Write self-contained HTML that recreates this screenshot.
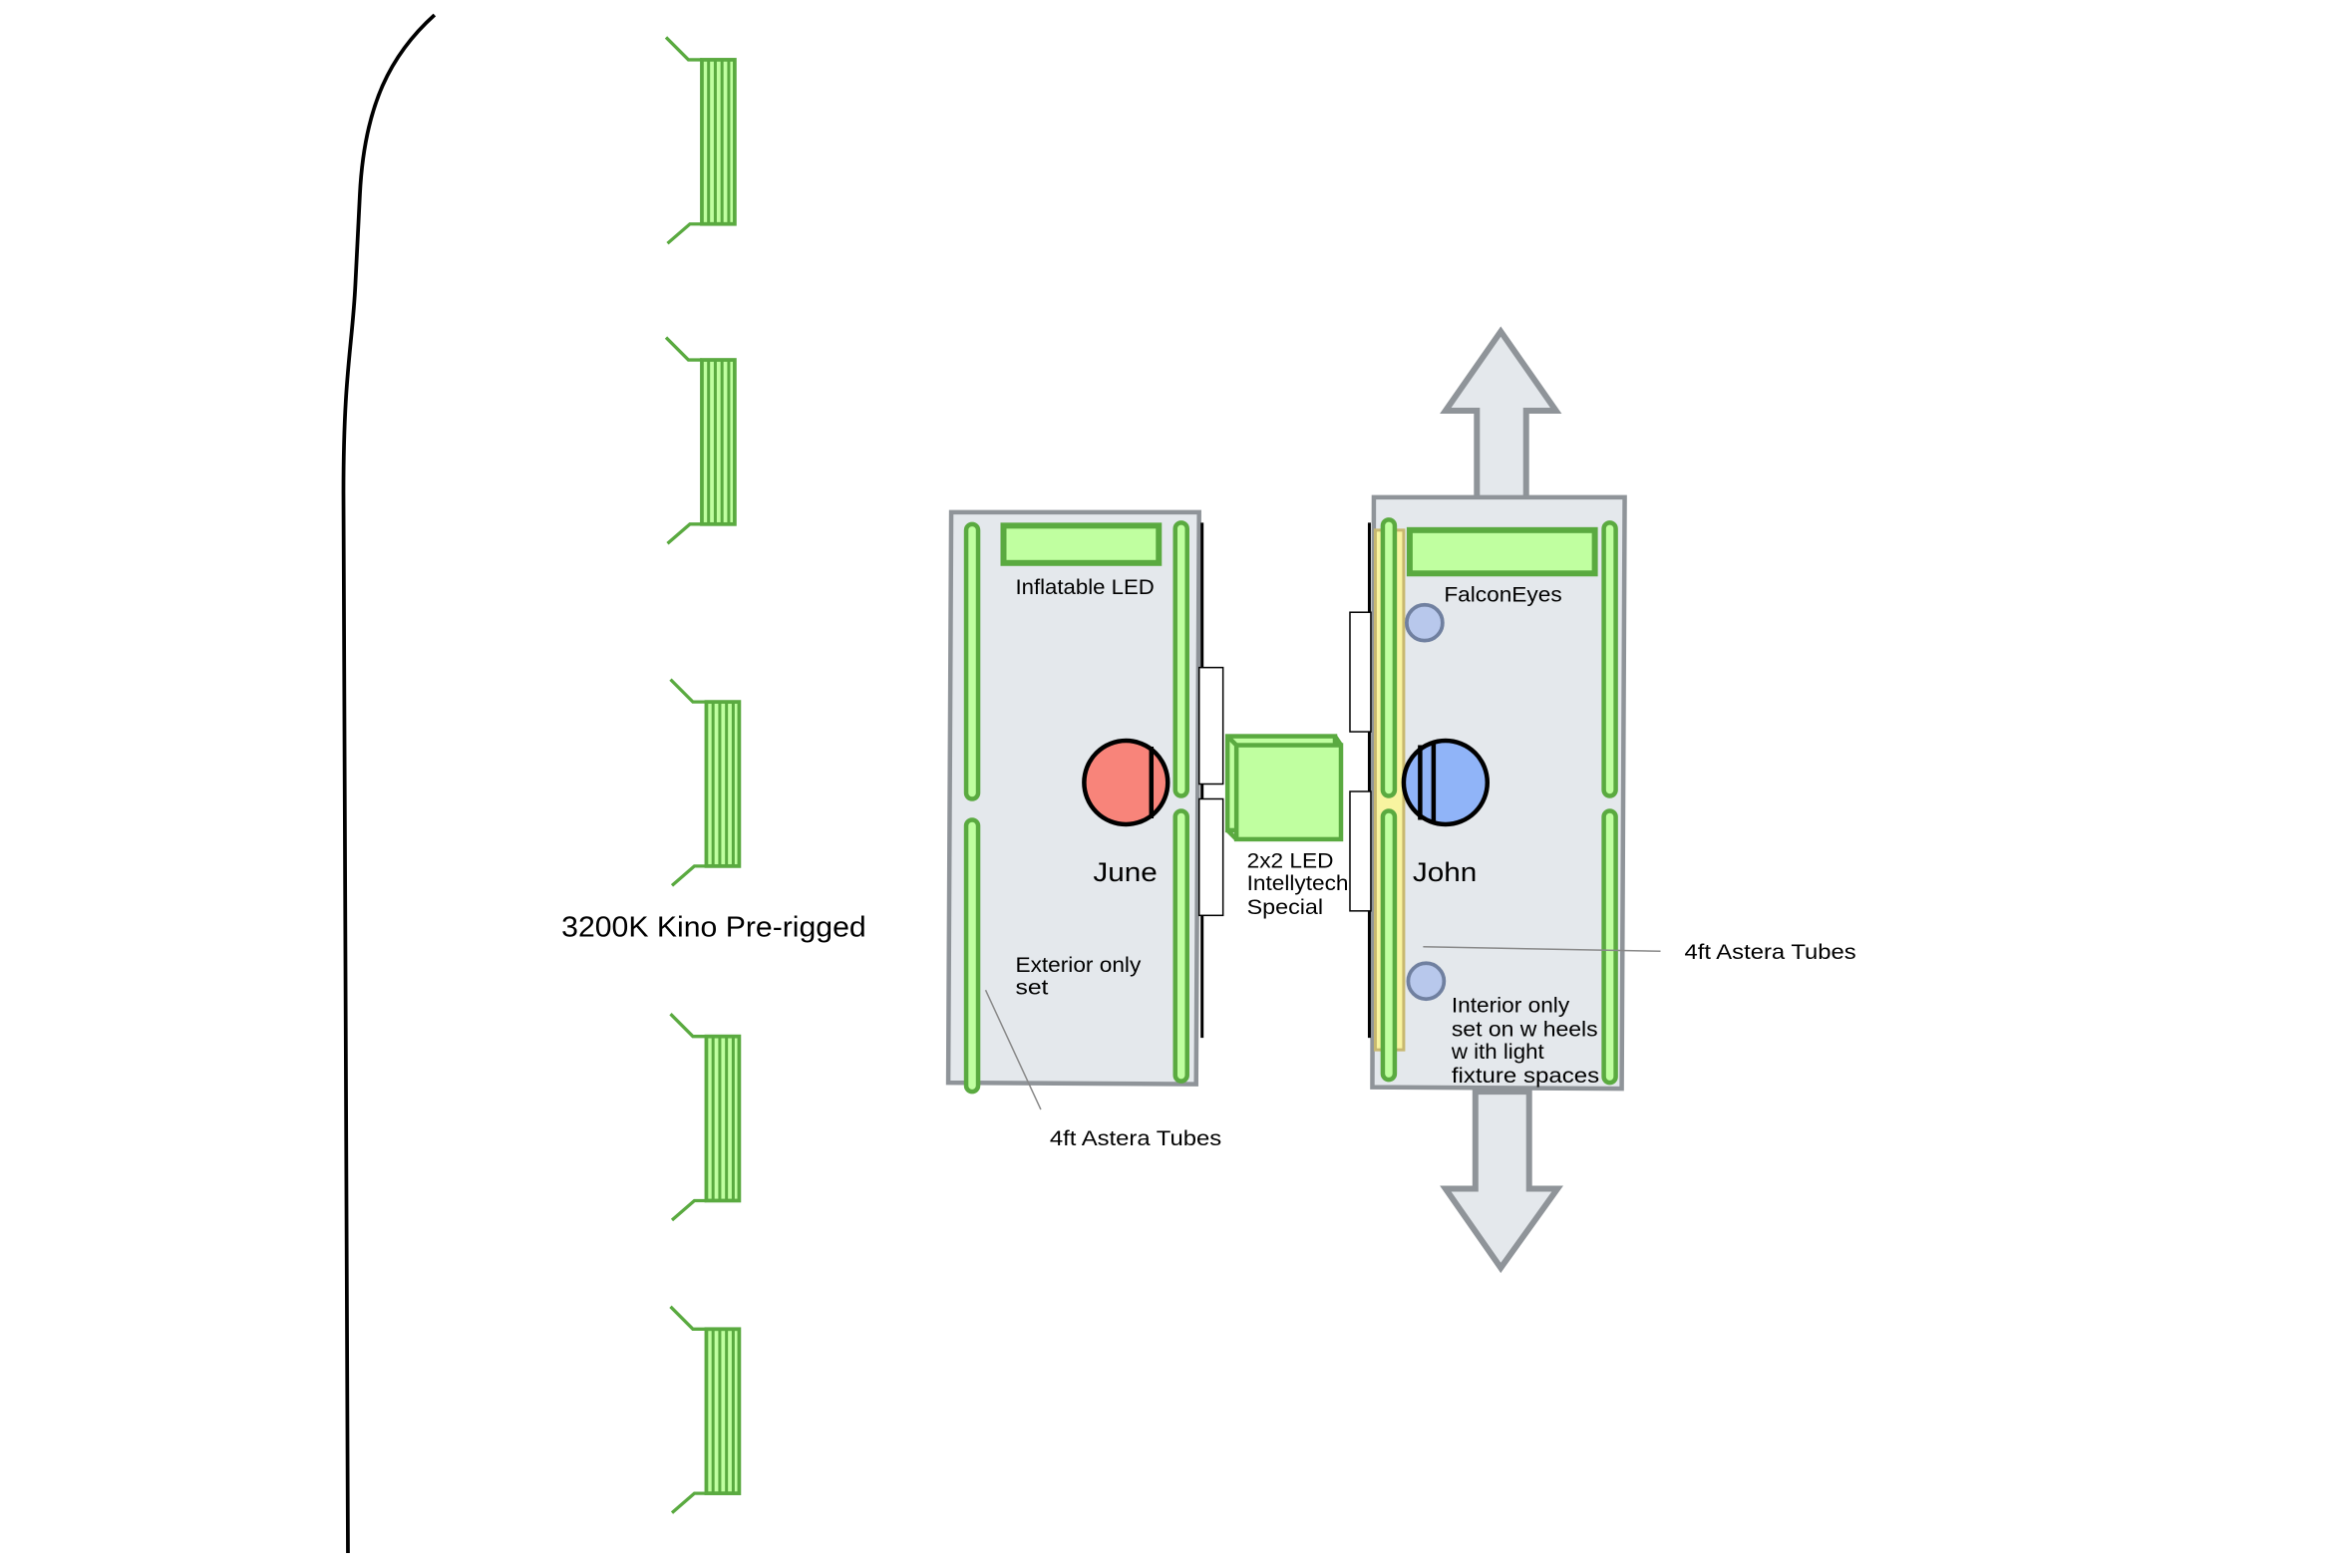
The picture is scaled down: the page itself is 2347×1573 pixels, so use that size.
<!DOCTYPE html>
<html><head><meta charset="utf-8"><style>
html,body{margin:0;padding:0;background:#fff;}
svg{display:block;}
text{font-family:"Liberation Sans",sans-serif;fill:#000;}
</style></head><body>
<svg width="2347" height="1573" viewBox="0 0 1567 1050" preserveAspectRatio="none" xmlns="http://www.w3.org/2000/svg">
<defs>
<g id="kino">
<polyline points="446,25 461,40 470,40" fill="none" stroke="#5aaa40" stroke-width="2.2"/>
<polyline points="447,163 462,150 470,150" fill="none" stroke="#5aaa40" stroke-width="2.2"/>
<rect x="470" y="40" width="22" height="110" fill="#c0ffa0" stroke="#5aaa40" stroke-width="2.5"/>
<line x1="474.5" y1="40" x2="474.5" y2="150" stroke="#5aaa40" stroke-width="2"/>
<line x1="479" y1="40" x2="479" y2="150" stroke="#5aaa40" stroke-width="2"/>
<line x1="483.5" y1="40" x2="483.5" y2="150" stroke="#5aaa40" stroke-width="2"/>
<line x1="488" y1="40" x2="488" y2="150" stroke="#5aaa40" stroke-width="2"/>
</g>
</defs>
<path d="M291,10 C262,36 244,70 241,130 L238,190 C236,232 230,250 230,330 L233,1040" fill="none" stroke="#000" stroke-width="2.5"/>
<use href="#kino"/>
<use href="#kino" transform="translate(0,201)"/>
<use href="#kino" transform="translate(3,430)"/>
<use href="#kino" transform="translate(3,654)"/>
<use href="#kino" transform="translate(3,850)"/>
<text x="376" y="627" font-size="19" textLength="204" lengthAdjust="spacingAndGlyphs">3200K Kino Pre-rigged</text>

<polygon points="1005,222 1042,275 1022,275 1022,338 989,338 989,275 968,275" fill="#e4e8ec" stroke="#8f9499" stroke-width="4"/>
<polygon points="988,731 1024,731 1024,796 1043,796 1005,849 968,796 988,796" fill="#e4e8ec" stroke="#8f9499" stroke-width="4"/>

<polygon points="637,343 803,343 801,726 635,725" fill="#e4e8ec" stroke="#8f9499" stroke-width="3"/>
<line x1="805" y1="350" x2="805" y2="695" stroke="#000" stroke-width="2"/>
<rect x="803" y="447" width="16" height="78" fill="#fff" stroke="#000" stroke-width="1"/>
<rect x="803" y="535" width="16" height="78" fill="#fff" stroke="#000" stroke-width="1"/>
<g fill="#c0ffa0" stroke="#5aaa40" stroke-width="3">
<rect x="647" y="351" width="8" height="184" rx="4"/>
<rect x="647" y="549" width="8" height="182" rx="4"/>
<rect x="787" y="350" width="8" height="183" rx="4"/>
<rect x="787" y="543" width="8" height="181" rx="4"/>
<rect x="672" y="352" width="104" height="25" stroke-width="4"/>
</g>
<text x="680" y="398" font-size="14.5" textLength="93" lengthAdjust="spacingAndGlyphs">Inflatable LED</text>
<circle cx="754" cy="524" r="28" fill="#f8847a" stroke="#000" stroke-width="3"/>
<line x1="771" y1="500" x2="771" y2="548" stroke="#000" stroke-width="3"/>
<text x="732" y="590" font-size="18" textLength="43" lengthAdjust="spacingAndGlyphs">June</text>
<text x="680" y="651" font-size="14.5" textLength="84" lengthAdjust="spacingAndGlyphs">Exterior only</text>
<text x="680" y="666" font-size="14.5" textLength="22" lengthAdjust="spacingAndGlyphs">set</text>
<line x1="660" y1="663" x2="697" y2="743" stroke="#888" stroke-width="1"/>
<text x="703" y="767" font-size="14.5" textLength="115" lengthAdjust="spacingAndGlyphs">4ft Astera Tubes</text>

<g fill="#c0ffa0" stroke="#5aaa40" stroke-width="3">
<rect x="822" y="493" width="72" height="63"/>
<rect x="828" y="499" width="70" height="63"/>
<line x1="822" y1="493" x2="828" y2="499"/>
<line x1="894" y1="493" x2="898" y2="499"/>
<line x1="822" y1="556" x2="828" y2="562"/>
</g>
<text x="835" y="581" font-size="14.5" textLength="58" lengthAdjust="spacingAndGlyphs">2x2 LED</text>
<text x="835" y="596" font-size="14.5" textLength="68" lengthAdjust="spacingAndGlyphs">Intellytech</text>
<text x="835" y="612" font-size="14.5" textLength="51" lengthAdjust="spacingAndGlyphs">Special</text>

<polygon points="920,333 1088,333 1086,729 919,728" fill="#e4e8ec" stroke="#8f9499" stroke-width="3"/>
<line x1="917" y1="350" x2="917" y2="695" stroke="#000" stroke-width="2"/>
<rect x="904" y="410" width="14" height="80" fill="#fff" stroke="#000" stroke-width="1"/>
<rect x="904" y="530" width="14" height="80" fill="#fff" stroke="#000" stroke-width="1"/>
<rect x="921" y="355" width="19" height="348" fill="#f8f4a0" stroke="#c8b870" stroke-width="2"/>
<g fill="#c0ffa0" stroke="#5aaa40" stroke-width="3">
<rect x="926" y="348" width="8" height="185" rx="4"/>
<rect x="926" y="543" width="8" height="180" rx="4"/>
<rect x="1074" y="350" width="8" height="183" rx="4"/>
<rect x="1074" y="543" width="8" height="182" rx="4"/>
<rect x="944" y="355" width="124" height="29" stroke-width="4"/>
</g>
<text x="967" y="403" font-size="14.5" textLength="79" lengthAdjust="spacingAndGlyphs">FalconEyes</text>
<circle cx="954" cy="417" r="12" fill="#b8c8ec" stroke="#7080a0" stroke-width="2.5"/>
<circle cx="955" cy="657" r="12" fill="#b8c8ec" stroke="#7080a0" stroke-width="2.5"/>
<circle cx="968" cy="524" r="28" fill="#90b4f8" stroke="#000" stroke-width="3"/>
<line x1="951" y1="499" x2="951" y2="549" stroke="#000" stroke-width="3"/>
<line x1="960" y1="497" x2="960" y2="551" stroke="#000" stroke-width="3"/>
<text x="946" y="590" font-size="18" textLength="43" lengthAdjust="spacingAndGlyphs">John</text>
<line x1="953" y1="634" x2="1112" y2="637" stroke="#888" stroke-width="1"/>
<text x="1128" y="642" font-size="14.5" textLength="115" lengthAdjust="spacingAndGlyphs">4ft Astera Tubes</text>
<text x="972" y="678" font-size="14.5" textLength="79" lengthAdjust="spacingAndGlyphs">Interior only</text>
<text x="972" y="694" font-size="14.5" textLength="98" lengthAdjust="spacingAndGlyphs">set on w heels</text>
<text x="972" y="709" font-size="14.5" textLength="62" lengthAdjust="spacingAndGlyphs">w ith light</text>
<text x="972" y="725" font-size="14.5" textLength="99" lengthAdjust="spacingAndGlyphs">fixture spaces</text>
</svg>
</body></html>
